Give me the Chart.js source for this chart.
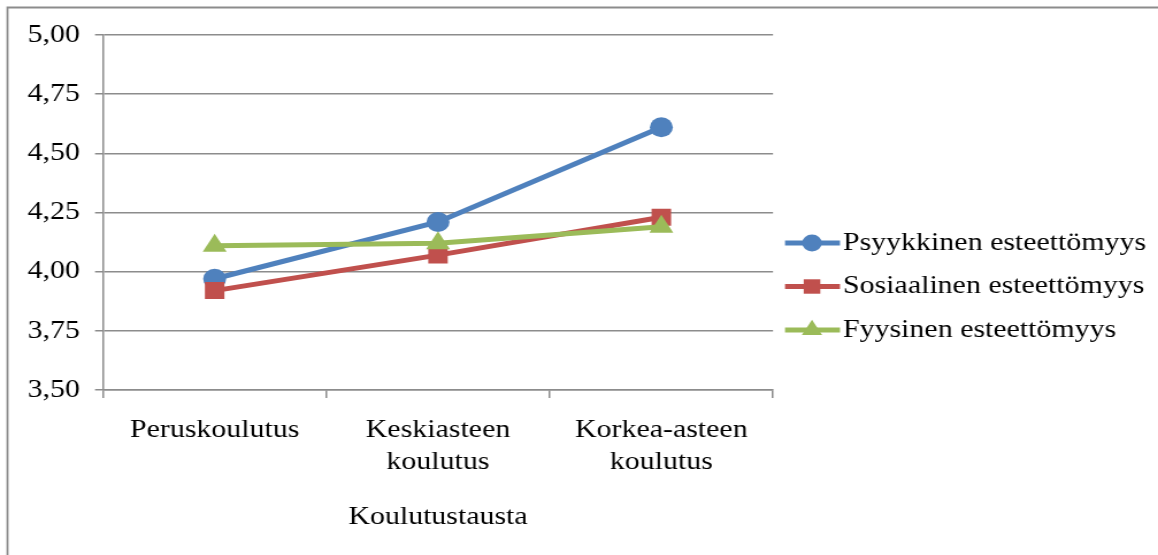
<!DOCTYPE html>
<html>
<head>
<meta charset="utf-8">
<script src="https://cdn.jsdelivr.net/npm/chart.js@4.4.1/dist/chart.umd.min.js"></script>
<style>
  html, body { margin: 0; padding: 0; background: #fff; overflow: hidden; }
  #wrap {
    position: absolute; left: 0; top: 0;
    width: 1007px; height: 555px;
    transform: scaleX(1.15); transform-origin: 0 0;
  }
</style>
</head>
<body>
<div id="wrap"><canvas id="chart" width="1007" height="555"></canvas></div>
<script>
// Data
const categories = ['Peruskoulutus', ['Keskiasteen', 'koulutus'], ['Korkea-asteen', 'koulutus']];
const psyykkinen = [3.97, 4.21, 4.61];
const sosiaalinen = [3.92, 4.07, 4.23];
const fyysinen = [4.11, 4.12, 4.19];
const yMin = 3.5, yMax = 5.0, yStep = 0.25;

// Layout (canvas is stretched horizontally by SX)
const SX = 1.15;
const W = 1007;
const px = x => x / SX;
const FONT = { family: '"Liberation Serif", "Times New Roman", serif', size: 26 };
const GRID = '#8c8c8c';

// Frame round the chart (top and left edges visible)
const framePlugin = {
    id: 'frame',
    beforeDraw(chart) {
        const ctx = chart.ctx;
        ctx.save();
        ctx.strokeStyle = GRID;
        ctx.lineWidth = 1.8;
        ctx.beginPath();
        ctx.moveTo(px(7.5), 555);
        ctx.lineTo(px(7.5), 7.5);
        ctx.lineTo(W, 7.5);
        ctx.stroke();
        ctx.restore();
    }
};

// Legend drawn like Excel: line with marker, then label
const legendPlugin = {
    id: 'excelLegend',
    afterDraw(chart) {
        const ctx = chart.ctx;
        ctx.save();
        chart.data.datasets.forEach((ds, i) => {
            const y = 243 + i * 43.5;
            ctx.strokeStyle = ds.borderColor;
            ctx.lineWidth = ds.borderWidth;
            ctx.beginPath();
            ctx.moveTo(px(785), y);
            ctx.lineTo(px(840), y);
            ctx.stroke();
            ctx.fillStyle = ds.borderColor;
            Chart.helpers.drawPoint(ctx, {
                pointStyle: ds.pointStyle,
                radius: ds.pointRadius * 0.85,
                rotation: 0,
                borderWidth: 0
            }, px(812), y);
            ctx.fillStyle = '#000';
            ctx.font = FONT.size + 'px ' + FONT.family;
            ctx.textBaseline = 'middle';
            ctx.textAlign = 'left';
            ctx.fillText(ds.label, px(843), y);
        });
        ctx.restore();
    }
};

const ctx = document.getElementById('chart').getContext('2d');
new Chart(ctx, {
    type: 'line',
    data: {
        labels: categories,
        datasets: [{
            label: 'Psyykkinen esteettömyys',
            data: psyykkinen,
            borderColor: '#4f81bd',
            backgroundColor: '#4f81bd',
            pointStyle: 'circle',
            pointRadius: 10,
            order: 3
        }, {
            label: 'Sosiaalinen esteettömyys',
            data: sosiaalinen,
            borderColor: '#c0504d',
            backgroundColor: '#c0504d',
            pointStyle: 'rect',
            pointRadius: 12,
            order: 2
        }, {
            label: 'Fyysinen esteettömyys',
            data: fyysinen,
            borderColor: '#9bbb59',
            backgroundColor: '#9bbb59',
            pointStyle: 'triangle',
            pointRadius: 12,
            order: 1
        }].map(ds => Object.assign(ds, {
            borderWidth: 5,
            tension: 0,
            pointBorderWidth: 0,
            pointBackgroundColor: ds.borderColor,
            pointHoverRadius: ds.pointRadius
        }))
    },
    options: {
        responsive: false,
        animation: false,
        events: [],
        layout: {
            padding: { left: 0, top: 35, right: W - px(773), bottom: 0 }
        },
        plugins: {
            legend: { display: false },
            tooltip: { enabled: false }
        },
        scales: {
            x: {
                offset: true,
                grid: {
                    offset: true,
                    drawOnChartArea: false,
                    tickLength: 8,
                    color: GRID,
                    lineWidth: 1.5
                },
                border: { color: GRID, width: 1.5 },
                ticks: {
                    font: FONT,
                    color: '#000',
                    padding: 17,
                    maxRotation: 0,
                    autoSkip: false
                },
                title: {
                    display: true,
                    text: 'Koulutustausta',
                    font: FONT,
                    color: '#000',
                    padding: { top: 0, bottom: 22 }
                },
                afterFit(scale) { scale.height = 165; }
            },
            y: {
                min: yMin,
                max: yMax,
                grid: {
                    color: GRID,
                    lineWidth: 1.5,
                    tickLength: px(8)
                },
                border: { color: GRID, width: 1.5 },
                ticks: {
                    stepSize: yStep,
                    font: FONT,
                    color: '#000',
                    padding: px(15),
                    callback: v => v.toFixed(2).replace('.', ',')
                },
                afterFit(scale) { scale.width = px(103); }
            }
        }
    },
    plugins: [framePlugin, legendPlugin]
});
</script>
</body>
</html>
